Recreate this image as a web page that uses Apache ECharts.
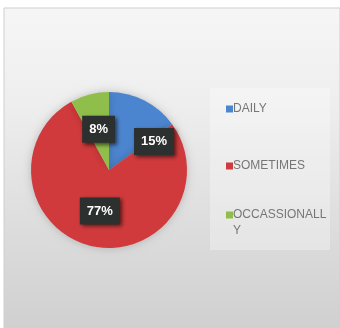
<!DOCTYPE html>
<html>
<head>
<meta charset="utf-8">
<script src="https://cdn.jsdelivr.net/npm/echarts@6/dist/echarts.min.js"></script>
<style>
  html, body { margin: 0; padding: 0; background: #ffffff; }
  #chart { width: 340px; height: 328px; }
</style>
</head>
<body>
<div id="chart"></div>
<script>
// Frequency of use, share of respondents (%)
const categories = ['DAILY', 'SOMETIMES', 'OCCASSIONALLY'];
const shares = [15, 77, 8];
const sliceColors = ['#4c85cf', '#d13a3c', '#8fbf4a'];

const chart = echarts.init(document.getElementById('chart'), null, { renderer: 'canvas' });

const pieData = categories.map((name, i) => {
  const item = { name: name, value: shares[i], itemStyle: { color: sliceColors[i] } };
  if (name === 'DAILY') {
    item.label = { offset: [26, 9] };
  }
  return item;
});

// Legend markers: a small square inside a 7x32 box. Single-line entries keep it
// centred; the wrapped entry keeps it level with its first line.
const markerCentred = 'path://M0,0h7v0.01h-7z M0,32h7v0.01h-7z M0,12.5h7v7h-7z';
const markerFirstLine = 'path://M0,0h7v0.01h-7z M0,32h7v0.01h-7z M0,4.5h7v7h-7z';
const legendData = categories.map((name) => ({
  name: name,
  icon: name === 'OCCASSIONALLY' ? markerFirstLine : markerCentred
}));

chart.setOption({
  backgroundColor: '#ffffff',
  animation: false,
  graphic: [
    {
      type: 'rect',
      z: -10,
      shape: { x: 4, y: 8, width: 336, height: 320 },
      style: {
        fill: {
          type: 'linear', x: 0, y: 0, x2: 0, y2: 1,
          colorStops: [
            { offset: 0, color: '#f6f6f6' },
            { offset: 0.3, color: '#eeeeee' },
            { offset: 0.7, color: '#dcdcdc' },
            { offset: 1, color: '#d0d0d0' }
          ]
        },
        stroke: '#cfcfcf',
        lineWidth: 1
      },
      silent: true
    },
    {
      type: 'rect',
      z: -5,
      shape: { x: 210, y: 88, width: 120, height: 162 },
      style: { fill: 'rgba(255,255,255,0.3)' },
      silent: true
    }
  ],
  legend: {
    orient: 'vertical',
    left: 221,
    top: 88,
    itemWidth: 7,
    itemHeight: 32,
    itemGap: 25,
    textStyle: {
      fontFamily: 'Liberation Sans',
      fontSize: 12,
      color: '#767676',
      padding: [0, 0, 0, -5],
      lineHeight: 16
    },
    formatter: function (name) {
      return name === 'OCCASSIONALLY' ? 'OCCASSIONALL\nY' : name;
    },
    data: legendData
  },
  series: [
    {
      type: 'pie',
      center: [109, 170],
      radius: 78,
      startAngle: 90,
      clockwise: true,
      avoidLabelOverlap: false,
      itemStyle: {
        borderWidth: 0,
        shadowBlur: 8,
        shadowColor: 'rgba(0,0,0,0.2)'
      },
      label: {
        position: 'inside',
        formatter: '{c}%',
        color: '#ffffff',
        fontFamily: 'Liberation Sans',
        fontWeight: 'bold',
        fontSize: 13,
        backgroundColor: '#2c302f',
        padding: [7, 7],
        shadowBlur: 4,
        shadowColor: 'rgba(0,0,0,0.6)',
        shadowOffsetX: 2,
        shadowOffsetY: 2
      },
      labelLine: { show: false },
      emphasis: { disabled: true },
      data: pieData
    }
  ]
});
</script>
</body>
</html>
